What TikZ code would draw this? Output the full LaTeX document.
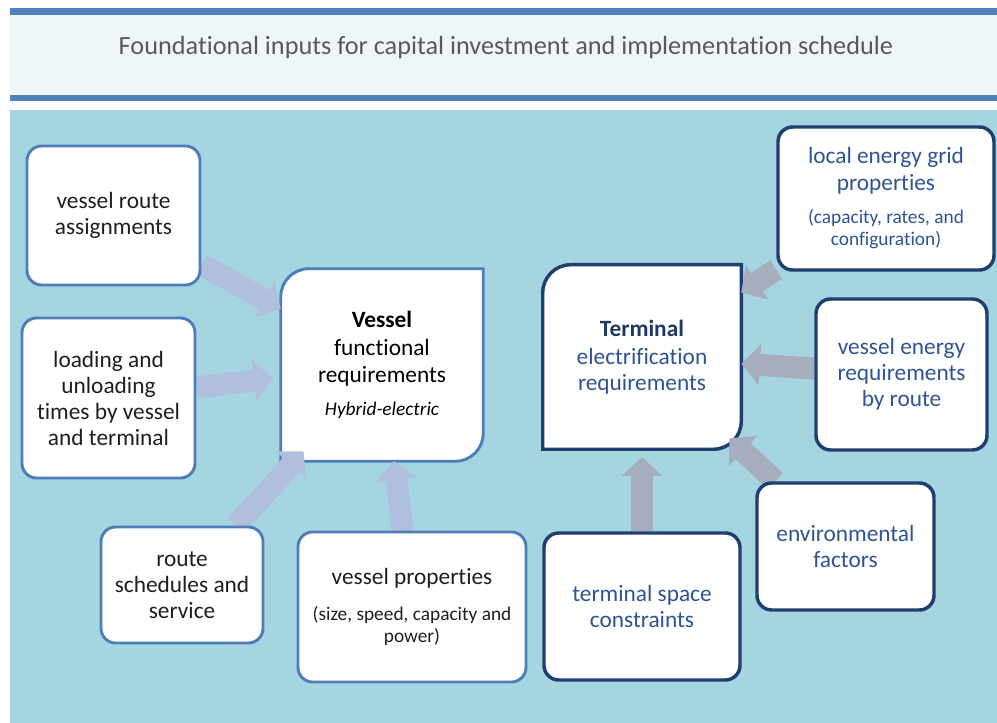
\documentclass[tikz,border=0pt]{standalone}
\usepackage{fontspec}
\setmainfont{Carlito}[Ligatures=NoCommon]
\usepackage{xcolor}
\usepackage{tikz}
\usetikzlibrary{positioning}
\usetikzlibrary{arrows.meta}
\pgfdeclarelayer{bglayer}
\pgfdeclarelayer{nodelayer}
\pgfdeclarelayer{edgelayer}
\pgfsetlayers{bglayer,nodelayer,edgelayer,main}

\definecolor{bandblue}{RGB}{79,129,189}
\definecolor{titlefill}{RGB}{238,246,248}
\definecolor{seablue}{RGB}{166,213,226}
\definecolor{titlegray}{RGB}{89,89,89}
\definecolor{vblue}{RGB}{79,125,185}
\definecolor{tnavy}{RGB}{31,63,110}
\definecolor{ttext}{RGB}{47,84,150}
\definecolor{tbold}{RGB}{31,56,100}
\definecolor{varrowc}{RGB}{176,192,220}
\definecolor{tarrowc}{RGB}{166,174,190}

\newcommand{\bigtxt}{\fontsize{17.5}{19.5}\selectfont}
\newcommand{\smalltxt}{\fontsize{14.5}{16.5}\selectfont}

\begin{document}
\begin{tikzpicture}[x=0.75pt,y=-0.75pt,
    inbox/.style={draw=vblue, line width=2.2pt, fill=white, rounded corners=11pt,
        align=center, inner sep=0pt, font=\bigtxt, text=black!88},
    tinbox/.style={draw=tnavy, line width=2.6pt, fill=white, rounded corners=11pt,
        align=center, inner sep=0pt, font=\bigtxt, text=ttext},
    corebox/.style={align=center, inner sep=0pt, font=\bigtxt},
    varrow/.style={draw=varrowc, line width=16.5pt, -{Triangle[width=30pt,length=14pt]}},
    tarrow/.style={draw=tarrowc, line width=16.5pt, -{Triangle[width=30pt,length=14pt]}}]
    % Background and title band
    \begin{pgfonlayer}{bglayer}
        \fill[white] (0,0) rectangle (997,723);
        \fill[titlefill] (10,15) rectangle (997,95);
        \fill[bandblue] (10,8.5) rectangle (997,15);
        \fill[bandblue] (10,95) rectangle (997,101);
        \fill[seablue] (10,110) rectangle (997,723);
    \end{pgfonlayer}
    \useasboundingbox (0,0) rectangle (997,723);
    \node[font=\fontsize{19.7}{22}\selectfont, text=titlegray] (title) at (506,48)
        {Foundational inputs for capital investment and implementation schedule};

    % Vessel side
    \node[inbox, minimum width=129.75pt, minimum height=104.25pt] (vra) at (113.5,215.5)
        {vessel route\\assignments};
    \node[inbox, minimum width=129.75pt, minimum height=120pt] (lut) at (108.5,398)
        {loading and\\unloading\\times by vessel\\and terminal};
    \node[inbox, minimum width=121.5pt, minimum height=87pt] (rss) at (182,585)
        {route\\schedules and\\service};
    \node[inbox, minimum width=171pt, minimum height=112.5pt] (vp) at (412,607)
        {vessel properties\\[8pt]{\smalltxt (size, speed, capacity and}\\[-3pt]{\smalltxt power)}};
    \node[corebox, minimum width=151.5pt, minimum height=144pt] (vfr) at (382,365)
        {{\bfseries Vessel}\\[1.5pt]functional\\[1pt]requirements\\[5pt]{\smalltxt\itshape Hybrid-electric}};

    % Terminal side
    \node[tinbox, minimum width=162pt, minimum height=107.25pt] (leg) at (886,198.5)
        {local energy grid\\[0.75pt]properties\\[5.25pt]{\smalltxt (capacity, rates, and}\\[-3pt]{\smalltxt configuration)}};
    \node[tinbox, minimum width=128.25pt, minimum height=113.25pt] (ver) at (901.5,374.5)
        {vessel energy\\requirements\\by route};
    \node[tinbox, minimum width=132.75pt, minimum height=95.25pt] (env) at (845.5,546.5)
        {environmental\\factors};
    \node[tinbox, minimum width=147pt, minimum height=110.25pt] (tsc) at (642,606.5)
        {terminal space\\constraints};
    \node[corebox, text=ttext, minimum width=148.5pt, minimum height=138pt] (tvr) at (642,357)
        {{\bfseries\color{tbold}Terminal}\\[1.5pt]electrification\\requirements};

    % Core box outlines
    \begin{pgfonlayer}{nodelayer}
        \draw[draw=vblue, line width=2.2pt, fill=white] (vfr.south west) -- (vfr.west)
            [rounded corners=21pt] -- (vfr.north west) -- (vfr.north)
            [sharp corners] -- (vfr.north east) -- (vfr.east)
            [rounded corners=21pt] -- (vfr.south east) -- (vfr.south)
            [sharp corners] -- cycle;
        \draw[draw=tnavy, line width=2.6pt, fill=white] (tvr.south west) -- (tvr.west)
            [rounded corners=21pt] -- (tvr.north west) -- (tvr.north)
            [sharp corners] -- (tvr.north east) -- (tvr.east)
            [rounded corners=21pt] -- (tvr.south east) -- (tvr.south)
            [sharp corners] -- cycle;
    \end{pgfonlayer}

    % Block arrows
    \begin{pgfonlayer}{edgelayer}
        \draw[varrow] (vra) -- (vfr);
        \draw[varrow, shorten >=6pt] (lut) -- (vfr);
        \draw[varrow, shorten >=-10pt] (rss) -- (vfr);
        \draw[varrow] (vp) -- (vfr);
        \draw[tarrow] (leg) -- (tvr);
        \draw[tarrow] (ver) -- (tvr);
        \draw[tarrow, shorten >=-12pt] (env) -- (tvr);
        \draw[tarrow, shorten >=6pt] (tsc) -- (tvr);
    \end{pgfonlayer}
\end{tikzpicture}
\end{document}
